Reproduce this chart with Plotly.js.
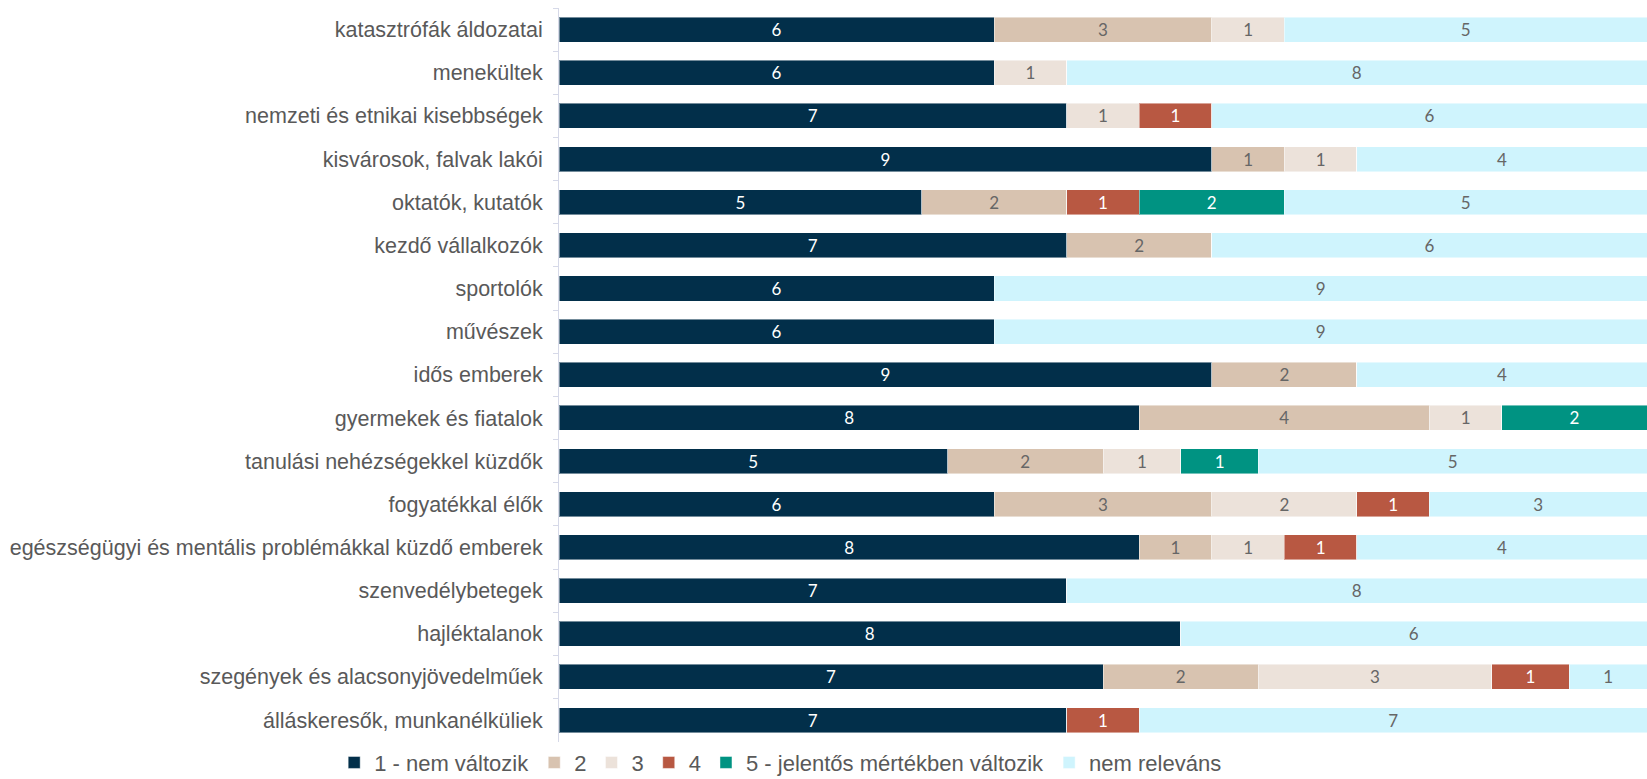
<!DOCTYPE html>
<html>
<head>
<meta charset="utf-8">
<script src="https://cdn.plot.ly/plotly-3.0.1.min.js"></script>
<style>html,body{margin:0;padding:0;background:#fff;}#chart{width:1647px;height:779px;}</style>
</head>
<body>
<div id="chart"></div>
<script>
const categories = [
  "katasztrófák áldozatai",
  "menekültek",
  "nemzeti és etnikai kisebbségek",
  "kisvárosok, falvak lakói",
  "oktatók, kutatók",
  "kezdő vállalkozók",
  "sportolók",
  "művészek",
  "idős emberek",
  "gyermekek és fiatalok",
  "tanulási nehézségekkel küzdők",
  "fogyatékkal élők",
  "egészségügyi és mentális problémákkal küzdő emberek",
  "szenvedélybetegek",
  "hajléktalanok",
  "szegények és alacsonyjövedelműek",
  "álláskeresők, munkanélküliek"
];
const seriesNames = ["1 - nem változik", "2", "3", "4", "5 - jelentős mértékben változik", "nem releváns"];
const s1 = [6, 6, 7, 9, 5, 7, 6, 6, 9, 8, 5, 6, 8, 7, 8, 7, 7];
const s2 = [3, 0, 0, 1, 2, 2, 0, 0, 2, 4, 2, 3, 1, 0, 0, 2, 0];
const s3 = [1, 1, 1, 1, 0, 0, 0, 0, 0, 1, 1, 2, 1, 0, 0, 3, 0];
const s4 = [0, 0, 1, 0, 1, 0, 0, 0, 0, 0, 0, 1, 1, 0, 0, 1, 1];
const s5 = [0, 0, 0, 0, 2, 0, 0, 0, 0, 2, 1, 0, 0, 0, 0, 0, 0];
const sNR = [5, 8, 6, 4, 5, 6, 9, 9, 4, 0, 5, 3, 4, 8, 6, 1, 7];

const seriesValues = [s1, s2, s3, s4, s5, sNR];
const colors = ["#022f4a", "#d8c3b0", "#ece2da", "#b85842", "#009382", "#cff4fd"];
const textColors = ["#ffffff", "#666666", "#666666", "#ffffff", "#ffffff", "#666666"];

const traces = seriesValues.map((vals, i) => ({
  type: "bar",
  orientation: "h",
  name: seriesNames[i],
  y: categories,
  x: vals,
  text: vals.map(v => v ? String(v) : ""),
  texttemplate: "%{text}",
  textposition: "inside",
  insidetextanchor: "middle",
  textangle: 0,
  constraintext: "none",
  textfont: {family: "Lato, 'Noto Sans', sans-serif", size: 17, color: textColors[i]},
  marker: {color: colors[i], line: {color: "rgba(255,255,255,0.45)", width: 1}},
  hoverinfo: "name+x"
}));

const layout = {
  width: 1647,
  height: 779,
  barmode: "stack",
  barnorm: "percent",
  bargap: 0.42,
  margin: {l: 559, r: 0, t: 8, b: 36},
  paper_bgcolor: "#ffffff",
  plot_bgcolor: "#ffffff",
  font: {family: "'Liberation Sans', Arial, sans-serif", color: "#595959"},
  xaxis: {visible: false, range: [0, 100], fixedrange: true},
  yaxis: {
    autorange: "reversed",
    type: "category",
    showline: true,
    linecolor: "#d6d9e8",
    linewidth: 1,
    ticks: "outside",
    tickson: "boundaries",
    ticklen: 5,
    tickcolor: "#d6d9e8",
    showgrid: false,
    tickfont: {family: "'Liberation Sans', Arial, sans-serif", size: 21.5, color: "#595959"},
    ticklabelstandoff: 11
  },
  showlegend: true,
  legend: {
    orientation: "h",
    xref: "container",
    yref: "container",
    x: 0.474,
    xanchor: "center",
    y: 0.021,
    yanchor: "middle",
    font: {family: "'Liberation Sans', Arial, sans-serif", size: 22, color: "#595959"},
    traceorder: "normal",
    itemwidth: 30
  }
};

Plotly.newPlot("chart", traces, layout, {displayModeBar: false});
</script>
</body>
</html>
